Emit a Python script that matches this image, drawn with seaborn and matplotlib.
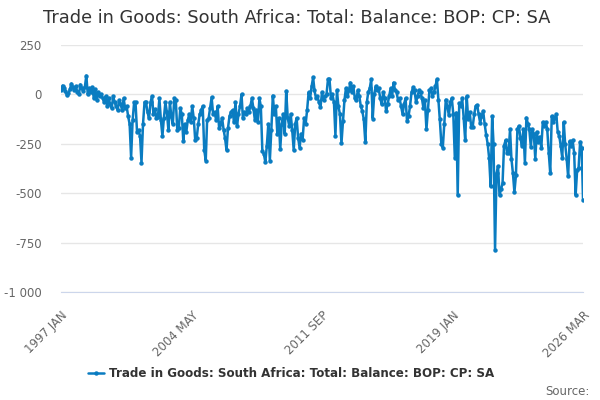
import matplotlib
matplotlib.use('Agg')
import matplotlib.pyplot as plt
import matplotlib.ticker as mticker
import matplotlib.dates as mdates
import numpy as np
import pandas as pd
import seaborn as sns

title = 'Trade in Goods: South Africa: Total: Balance: BOP: CP: SA'
start_month = '1997-01-01'

# monthly values, 1997 JAN .. 2026 MAR
y1997 = [20, 45, 30, 15, -5, 5, 25, 55, 35, 20, 40, 10]
y1998 = [0, 50, 30, 15, 35, 95, 0, 30, 10, 35, -20, 25]
y1999 = [-30, 10, -10, 0, -20, -40, -10, -60, -20, -50, -70, -10]
y2000 = [-40, -60, -80, -30, -50, -80, -20, -70, -60, -110, -150, -320]
y2001 = [-130, -40, -40, -190, -180, -210, -345, -150, -40, -40, -90, -120]
y2002 = [-40, -10, -100, -75, -120, -115, -20, -130, -210, -120, -40, -90]
y2003 = [-180, -40, -110, -150, -20, -30, -180, -170, -70, -100, -235, -150]
y2004 = [-190, -130, -100, -140, -60, -120, -230, -220, -150, -100, -80, -60]
y2005 = [-280, -335, -130, -120, -70, -15, -100, -90, -130, -60, -170, -150]
y2006 = [-120, -180, -220, -282, -170, -110, -90, -80, -140, -40, -160, -100]
y2007 = [-60, 0, -120, -90, -100, -70, -90, -60, -20, -70, -130, -80]
y2008 = [-140, -20, -60, -285, -300, -343, -260, -150, -335, -180, -6, -100]
y2009 = [-60, -200, -120, -278, -150, -100, -200, 17, -120, -160, -100, -180]
y2010 = [-282, -150, -120, -220, -270, -200, -230, -120, -150, -80, 10, -20]
y2011 = [40, 86, 20, -20, -10, -40, -66, 10, -30, -10, 0, 76]
y2012 = [76, -20, 0, -40, -208, 20, -60, -100, -248, -137, -30, 30]
y2013 = [-10, 20, 60, 10, 40, -20, -30, 20, -10, -60, -84, -127]
y2014 = [-241, -40, 10, 30, 76, -122, 0, 40, 20, 30, -20, -50]
y2015 = [10, -20, -84, -50, -10, 30, -10, 60, 20, 10, -30, -20]
y2016 = [-60, -100, -50, -20, -135, -110, -60, 10, 35, 20, -40, -10]
y2017 = [20, 10, -20, -70, -30, -177, -80, 20, 30, -10, 10, 40]
y2018 = [76, -30, -127, -250, -270, -150, -27, -60, -105, -40, -20, -100]
y2019 = [-320, -93, -510, -44, -60, -20, -120, -233, -10, -127, -90, -164]
y2020 = [-164, -100, -60, -54, -100, -144, -110, -84, -150, -203, -250, -320]
y2021 = [-466, -110, -250, -786, -400, -363, -510, -480, -450, -260, -233, -297]
y2022 = [-297, -177, -325, -400, -495, -410, -177, -160, -220, -260, -177, -345]
y2023 = [-118, -150, -177, -265, -177, -200, -325, -190, -240, -215, -270, -140]
y2024 = [-160, -140, -177, -297, -398, -110, -140, -120, -100, -190, -210, -260]
y2025 = [-320, -140, -250, -325, -415, -237, -260, -233, -295, -510, -383, -370]
y2026 = [-240, -270, -532]

values = (y1997 + y1998 + y1999 + y2000 + y2001 + y2002 + y2003 + y2004 + y2005
          + y2006 + y2007 + y2008 + y2009 + y2010 + y2011 + y2012 + y2013 + y2014
          + y2015 + y2016 + y2017 + y2018 + y2019 + y2020 + y2021 + y2022 + y2023
          + y2024 + y2025 + y2026)
dates = pd.date_range(start_month, periods=len(values), freq='MS')
df = pd.DataFrame({'date': dates, 'value': values})

y_ticks = [250, 0, -250, -500, -750, -1000]
x_label_months = ['1997 JAN', '2004 MAY', '2011 SEP', '2019 JAN', '2026 MAR']

sns.set_style('white')
plt.rcParams['font.family'] = ['DejaVu Sans']

line_color = '#0a7cc1'
fig = plt.figure(figsize=(6, 4), dpi=100)
ax = fig.add_axes([0.1017, 0.27, 0.87, 0.6175])
sns.lineplot(data=df, x='date', y='value', ax=ax, color=line_color, lw=1.8,
             marker='o', markersize=3.2, markeredgewidth=0, label=title)

x0 = mdates.date2num(dates[0])
x1 = mdates.date2num(dates[-1])
ax.set_xlim(x0, x1)
ax.set_ylim(-1000, 250)
ax.set_yticks(y_ticks)
ax.yaxis.set_major_formatter(mticker.FuncFormatter(lambda v, p: f'{int(v):,}'.replace(',', ' ')))
ax.grid(axis='y', color='#e6e6e6', lw=1)
ax.set_axisbelow(True)

minor = np.linspace(x0, x1, 17)
ax.set_xticks(minor[::4])
ax.set_xticklabels(x_label_months, rotation=45, ha='right', rotation_mode='anchor')
ax.set_xticks(minor, minor=True)
ax.tick_params(axis='x', which='both', length=8, color='#ccd6eb', width=1)
ax.tick_params(axis='x', labelsize=8.5, labelcolor='#666666', pad=4)
ax.tick_params(axis='y', length=0, labelsize=8.5, labelcolor='#666666', pad=14)

for s in ['top', 'right', 'left']:
    ax.spines[s].set_visible(False)
ax.spines['bottom'].set_color('#ccd6eb')
ax.set_xlabel('')
ax.set_ylabel('')

handles, labels = ax.get_legend_handles_labels()
ax.get_legend().remove()
fig.legend(handles, labels, loc='center', bbox_to_anchor=(0.485, 0.067), frameon=False,
           prop={'weight': 'bold', 'size': 8.6}, labelcolor='#333333',
           handlelength=1.3, handletextpad=0.4)

fig.text(0.072, 0.955, title, fontsize=12.75, color='#333333', va='center')
fig.text(0.982, 0.022, 'Source:', fontsize=8.5, color='#666666', ha='right', va='center')

fig.savefig('out.png', dpi=100)
